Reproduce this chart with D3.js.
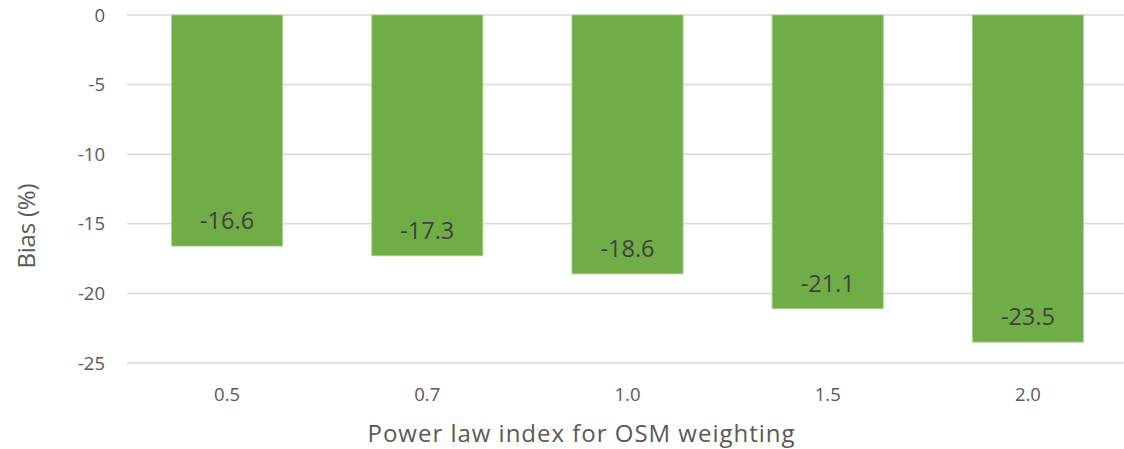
<!DOCTYPE html>
<html>
<head>
<meta charset="utf-8">
<script src="https://cdn.jsdelivr.net/npm/d3@7"></script>
<style>
  body { margin: 0; background: #fff; }
  text { font-family: "Open Sans", sans-serif; }
</style>
</head>
<body>
<div class="bar-chart"></div>
<script>
var categories = ['0.5', '0.7', '1.0', '1.5', '2.0'];
var bias = [-16.6, -17.3, -18.6, -21.1, -23.5];
var yTicks = [0, -5, -10, -15, -20, -25];

var width = 1124,
    height = 449;

var x = d3.scaleBand().domain(categories).range([127, 1128]).paddingInner(0.445).paddingOuter(0.2225);
var y = d3.scaleLinear().domain([0, -25]).range([15, 363]);

var svg = d3.select('.bar-chart').append('svg').attr('width', width).attr('height', height);

// gridlines
svg.append('g').selectAll('line').data(yTicks).enter().append('line')
    .attr('x1', 127).attr('x2', width)
    .attr('y1', function(d) { return y(d); }).attr('y2', function(d) { return y(d); })
    .attr('stroke', '#d9d9d9').attr('stroke-width', 1.5);

// y tick labels
svg.append('g').selectAll('text').data(yTicks).enter().append('text')
    .attr('x', 105).attr('y', function(d) { return y(d); }).attr('dy', '0.36em')
    .attr('text-anchor', 'end').attr('fill', '#595959').style('font-size', '18.5px')
    .text(function(d) { return d; });

// bars
var data = categories.map(function(c, i) { return { cat: c, val: bias[i] }; });
svg.append('g').selectAll('rect').data(data).enter().append('rect')
    .attr('x', function(d) { return x(d.cat); })
    .attr('width', x.bandwidth())
    .attr('y', y(0))
    .attr('height', function(d) { return y(d.val) - y(0); })
    .attr('fill', '#70ad47').attr('stroke', '#a9d18e').attr('stroke-width', 0.8);

// data labels
svg.append('g').selectAll('text').data(data).enter().append('text')
    .attr('x', function(d) { return x(d.cat) + x.bandwidth() / 2; })
    .attr('y', function(d) { return y(d.val) - 17; })
    .attr('text-anchor', 'middle').attr('fill', '#404040').style('font-size', '23.5px')
    .text(function(d) { return d.val.toFixed(1); });

// x tick labels
svg.append('g').selectAll('text').data(categories).enter().append('text')
    .attr('x', function(d) { return x(d) + x.bandwidth() / 2; })
    .attr('y', 401)
    .attr('text-anchor', 'middle').attr('fill', '#595959').style('font-size', '18.5px')
    .text(function(d) { return d; });

// axis titles
svg.append('text').attr('x', 581).attr('y', 442).attr('text-anchor', 'middle')
    .attr('fill', '#595959').style('font-size', '24px')
    .attr('textLength', 427).attr('lengthAdjust', 'spacing')
    .text('Power law index for OSM weighting');
svg.append('text').attr('transform', 'translate(35,226) rotate(-90)').attr('text-anchor', 'middle')
    .attr('fill', '#595959').style('font-size', '24px')
    .attr('textLength', 85).attr('lengthAdjust', 'spacing')
    .text('Bias (%)');
</script>
</body>
</html>
